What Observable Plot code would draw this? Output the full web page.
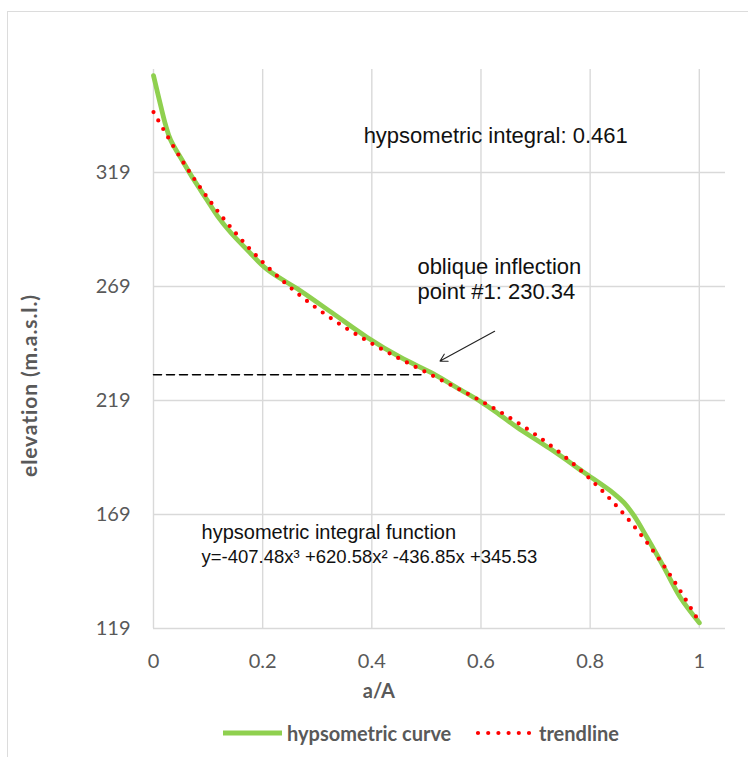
<!DOCTYPE html>
<html><head><meta charset="utf-8">
<script src="https://cdn.jsdelivr.net/npm/d3@7"></script>
<script src="https://cdn.jsdelivr.net/npm/@observablehq/plot@0.6"></script>
<style>
body{margin:0;background:#fff;width:748px;height:757px;overflow:hidden;position:relative;}
#frame{position:absolute;left:7px;top:11px;width:760px;height:760px;border-left:1.5px solid #dcdcdc;border-top:1.5px solid #dcdcdc;}
#chart{position:absolute;left:0;top:0;width:748px;}
#legend{position:absolute;left:0;top:710px;width:748px;height:46px;font-family:Lato,sans-serif;font-weight:bold;font-size:20px;color:#595959;}
#legend .it{position:absolute;top:0;height:46px;display:flex;align-items:center;}
</style></head>
<body>
<div id="frame"></div>
<div id="chart"></div>
<div id="legend"></div>
<script>
// hypsometric curve
const curveX = [0, 0.004, 0.013, 0.022, 0.031, 0.056, 0.074, 0.098, 0.117, 0.141, 0.172, 0.208, 0.269, 0.33, 0.391, 0.452, 0.513, 0.556, 0.599, 0.633, 0.666, 0.727, 0.788, 0.843, 0.862, 0.88, 0.904, 0.935, 0.965, 1.0];
const curveElev = [361.5, 357.5, 348.5, 340, 333.5, 323, 315.8, 307, 300, 292.8, 285.0, 276.5, 267.2, 257.0, 246.8, 238.0, 230.7, 224.6, 218.6, 213.0, 207.3, 197.8, 187.6, 178.3, 174.2, 168.6, 159.0, 145.9, 132.7, 121.5];
// trendline values
const trendX = [0, 0.05, 0.1, 0.15, 0.2, 0.25, 0.3, 0.35, 0.4, 0.45, 0.5, 0.55, 0.6, 0.65, 0.7, 0.75, 0.8, 0.85, 0.9, 0.95, 1.0];
const trendElev = [345.53, 325.19, 307.64, 292.59, 279.72, 268.74, 259.33, 251.18, 244.00, 237.48, 231.32, 225.19, 218.81, 211.87, 204.05, 195.06, 184.59, 172.33, 157.98, 141.23, 121.78];
const yTicks = [119, 169, 219, 269, 319];
const xTicks = [0, 0.2, 0.4, 0.6, 0.8, 1];
const xTickLabels = ["0", "0.2", "0.4", "0.6", "0.8", "1"];
const inflectionElev = 230.34;
const inflectionLine = [{x: 0, y: inflectionElev}, {x: 0.49, y: inflectionElev}];
const arrowData = [{x1: 0.625, y1: 249.4, x2: 0.525, y2: 236.3}];
const labels = {
  integral: "hypsometric integral: 0.461",
  inflection: "oblique inflection\npoint #1: 230.34",
  fnTitle: "hypsometric integral function",
  fnEq: "y=-407.48x\u00B3 +620.58x\u00B2 -436.85x +345.53",
  xTitle: "a/A",
  yTitle: "elevation (m.a.s.l.)",
  legendCurve: "hypsometric curve",
  legendTrend: "trendline"
};

const curve = curveX.map((x, i) => ({x, y: curveElev[i]}));
const trend = trendX.map((x, i) => ({x, y: trendElev[i]}));
const grid = "#d9d9d9";
const ann = "Liberation Sans, Arial, sans-serif";

const chart = Plot.plot({
  width: 748, height: 710,
  marginTop: 69, marginBottom: 82, marginLeft: 153, marginRight: 23,
  style: {fontFamily: "Lato, sans-serif", background: "transparent", overflow: "visible"},
  x: {domain: [0, 1.048]},
  y: {domain: [119, 364.2]},
  marks: [
    Plot.gridY(yTicks, {stroke: grid, strokeOpacity: 1, strokeWidth: 1.4}),
    Plot.gridX(xTicks, {stroke: grid, strokeOpacity: 1, strokeWidth: 1.4}),
    Plot.axisX(xTicks, {tickSize: 0, tickPadding: 25, fontSize: 20, fill: "#595959", label: null,
      tickFormat: d => xTickLabels[xTicks.indexOf(d)]}),
    Plot.axisY(yTicks, {tickSize: 0, tickPadding: 23, fontSize: 20, fill: "#595959", label: null}),
    Plot.line(inflectionLine, {x: "x", y: "y", stroke: "black", strokeWidth: 1.5, strokeDasharray: "8 5"}),
    Plot.line(curve, {x: "x", y: "y", stroke: "#8fd04f", strokeWidth: 4.8, curve: "catmull-rom"}),
    Plot.line(trend, {x: "x", y: "y", stroke: "#ff0000", strokeWidth: 4.2, strokeDasharray: "0 9.8", strokeLinecap: "round", curve: "catmull-rom"}),
    Plot.arrow(arrowData, {x1: "x1", y1: "y1", x2: "x2", y2: "y2", stroke: "#222", strokeWidth: 1.1, headLength: 11}),
    Plot.text([labels.integral], {x: 0.385, y: 335.0, text: d => d, textAnchor: "start", fontSize: 22, fontFamily: ann, fill: "#111"}),
    Plot.text([labels.inflection], {x: 0.4835, y: 272.5, text: d => d, textAnchor: "start", fontSize: 22, lineHeight: 1.136, fontFamily: ann, fill: "#111"}),
    Plot.text([labels.fnTitle], {x: 0.088, y: 160.9, text: d => d, textAnchor: "start", fontSize: 20, fontFamily: ann, fill: "#111"}),
    Plot.text([labels.fnEq], {x: 0.088, y: 150.4, text: d => d, textAnchor: "start", fontSize: 18.5, fontFamily: ann, fill: "#111"}),
    Plot.text([labels.xTitle], {x: 0.413, y: 119, dy: 63, text: d => d, fontSize: 20, fontWeight: "bold", fill: "#595959"}),
    Plot.text([labels.yTitle], {x: -0.225, y: 225.6, text: d => d, rotate: -90, fontSize: 21, fontWeight: "bold", fill: "#595959", className: "ytitle"})
  ]
});
d3.select(chart).selectAll(".ytitle text").style("letter-spacing", "0.9px");
document.getElementById("chart").appendChild(chart);

// legend
const lg = document.getElementById("legend");
lg.innerHTML = `
<div class="it" style="left:223px"><svg width="59" height="10"><line x1="0" y1="5" x2="59" y2="5" stroke="#8fd04f" stroke-width="5"/></svg></div>
<div class="it" style="left:287px">${labels.legendCurve}</div>
<div class="it" style="left:474px"><svg width="60" height="10"><line x1="4" y1="5" x2="56" y2="5" stroke="#ff0000" stroke-width="4.2" stroke-linecap="round" stroke-dasharray="0 10.2"/></svg></div>
<div class="it" style="left:539px">${labels.legendTrend}</div>`;
</script>
</body></html>
